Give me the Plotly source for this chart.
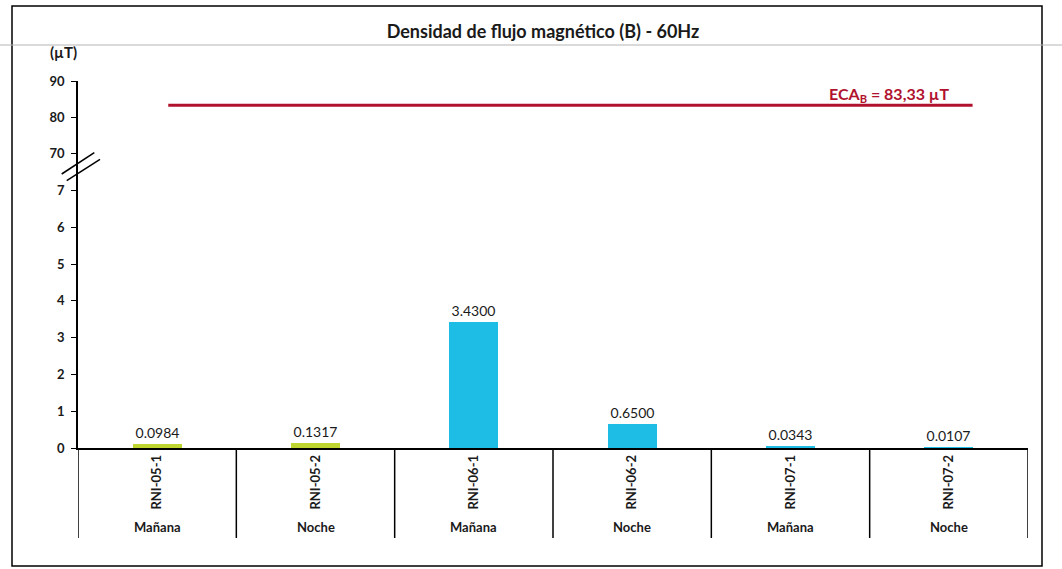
import plotly.graph_objects as go

# ---- data ----
stations = ["RNI-05-1", "RNI-05-2", "RNI-06-1", "RNI-06-2", "RNI-07-1", "RNI-07-2"]
turnos = ["Mañana", "Noche", "Mañana", "Noche", "Mañana", "Noche"]
valores = [0.0984, 0.1317, 3.4300, 0.6500, 0.0343, 0.0107]
bar_colors = ["#BFD630", "#BFD630", "#1DBDE6", "#1DBDE6", "#1DBDE6", "#1DBDE6"]
eca_valor = 83.33
eca_texto = "ECA<sub>B</sub> = 83,33 µT"
lower_ticks = [0, 1, 2, 3, 4, 5, 6, 7]
upper_ticks = [70, 80, 90]
titulo = "Densidad de flujo magnético (B) - 60Hz"
unidad = "(µT)"

# ---- layout helpers (pixel -> paper) ----
W, H = 1062, 569
def px(x):
    return x / W
def py(y):
    return 1 - y / H

FONT = "Lato"
TXT = "#1a1a1a"
RED = "#B0122E"
pos = list(range(len(stations)))
eca_x = [pos[0] + 0.07, pos[-1] + 0.15]

fig = go.Figure()
fig.add_trace(go.Bar(
    x=pos, y=valores, marker=dict(color=bar_colors, line=dict(width=0)),
    width=0.31, text=[f"{v:.4f}" for v in valores], textposition="outside",
    textfont=dict(family=FONT, size=14, color=TXT), cliponaxis=False,
    xaxis="x", yaxis="y", showlegend=False,
))
fig.add_trace(go.Scatter(
    x=eca_x, y=[eca_valor, eca_valor], mode="lines",
    line=dict(color=RED, width=3), xaxis="x", yaxis="y2", showlegend=False,
))

shapes = []
# category dividers below the axis
for i in range(len(stations) + 1):
    shapes.append(dict(type="line", xref="x", yref="paper", x0=i - 0.5, x1=i - 0.5,
                       y0=py(448), y1=py(538), line=dict(color="black", width=1.5)))
# axis break marks
shapes.append(dict(type="line", xref="paper", yref="paper", x0=px(61.7), y0=py(174),
                   x1=px(94.3), y1=py(152.7), line=dict(color="black", width=1.5)))
shapes.append(dict(type="line", xref="paper", yref="paper", x0=px(66.7), y0=py(180.7),
                   x1=px(100), y1=py(159.3), line=dict(color="black", width=1.5)))
# page frame
shapes.append(dict(type="rect", xref="paper", yref="paper", x0=px(12), y0=py(566),
                   x1=px(1042), y1=py(6), line=dict(color="black", width=1.5)))
# faint scan line
shapes.append(dict(type="line", xref="paper", yref="paper", x0=0, x1=1, y0=py(45), y1=py(45),
                   line=dict(color="#b5b5b5", width=1)))

annotations = []
for i, t in enumerate(turnos):
    annotations.append(dict(x=i, y=py(527), xref="x", yref="paper", text=t, showarrow=False,
                            font=dict(family=FONT, size=13, color=TXT, weight="bold"),
                            xanchor="center", yanchor="middle"))
annotations.append(dict(x=px(951), y=py(94), xref="paper", yref="paper", text=eca_texto,
                        showarrow=False, xanchor="right", yanchor="middle",
                        font=dict(family=FONT, size=16, color=RED, weight="bold")))
annotations.append(dict(x=px(63), y=py(52), xref="paper", yref="paper", text=unidad,
                        showarrow=False, xanchor="center", yanchor="middle",
                        font=dict(family=FONT, size=15, color=TXT, weight="bold")))

tickfont = dict(family=FONT, size=13, color=TXT, weight="bold")
fig.update_layout(
    width=W, height=H, margin=dict(l=0, r=0, t=0, b=0, autoexpand=False),
    paper_bgcolor="white", plot_bgcolor="white",
    title=dict(text=titulo, x=px(543), y=py(32), xanchor="center", yanchor="middle",
               font=dict(family=FONT, size=18, color=TXT, weight="bold")),
    xaxis=dict(domain=[px(78), px(1028)], range=[-0.5, 5.5], tickvals=pos, ticktext=stations,
               tickangle=-90, ticks="", showline=True, linecolor="black", linewidth=1.5,
               showgrid=False, zeroline=False, anchor="y", automargin=False,
               tickfont=dict(family=FONT, size=13, color=TXT, weight="bold")),
    yaxis=dict(domain=[py(448), py(172)], range=[0, 7.5], tickvals=lower_ticks,
               ticks="outside", ticklen=5, tickcolor="black", showline=True, linecolor="black",
               linewidth=1.5, showgrid=False, zeroline=False, anchor="x", automargin=False,
               ticklabelstandoff=4, tickfont=tickfont),
    yaxis2=dict(domain=[py(172), py(81)], range=[65, 90], tickvals=upper_ticks,
                ticks="outside", ticklen=5, tickcolor="black", showline=True, linecolor="black",
                linewidth=1.5, showgrid=False, zeroline=False, anchor="x", automargin=False,
                ticklabelstandoff=4, tickfont=tickfont),
    shapes=shapes, annotations=annotations, bargap=0,
)

fig.write_html("out.html", config={"displayModeBar": False},
               post_script="document.body.style.margin='0';document.body.style.overflow='hidden';")
